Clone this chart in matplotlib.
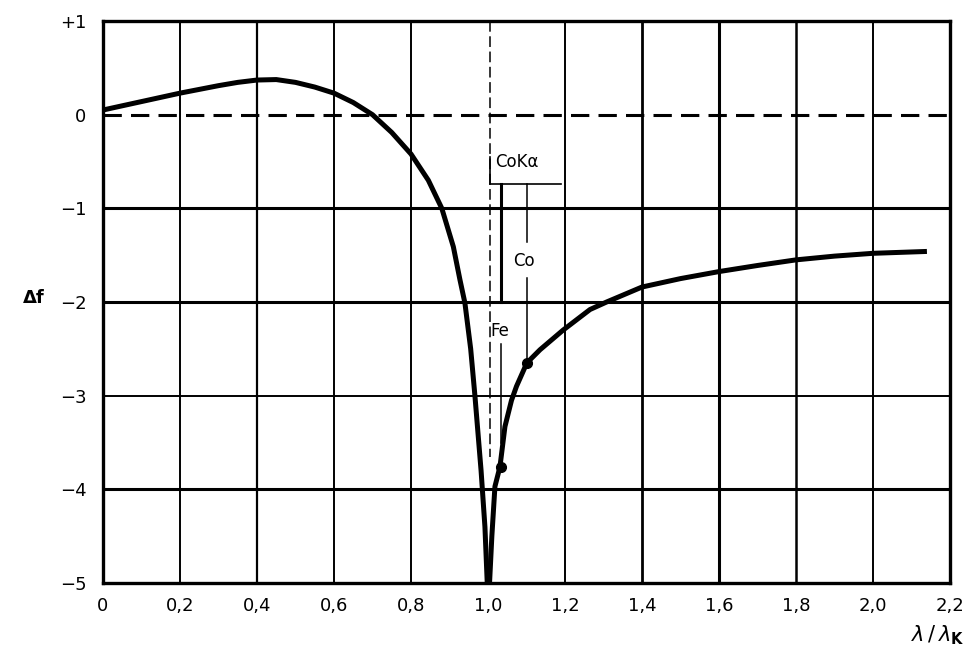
import matplotlib
matplotlib.use("Agg")
import matplotlib.pyplot as plt
import numpy as np

# Anomalous dispersion correction Δf versus λ/λK
x_below = [0.00, 0.10, 0.20, 0.30, 0.35, 0.40, 0.45, 0.50, 0.55, 0.60, 0.65,
           0.70, 0.75, 0.80, 0.845, 0.88, 0.91, 0.927, 0.940, 0.955, 0.966,
           0.982, 0.992, 0.998]
df_below = [0.05, 0.14, 0.23, 0.31, 0.345, 0.37, 0.375, 0.345, 0.295, 0.23,
            0.13, 0.00, -0.19, -0.42, -0.70, -1.00, -1.41, -1.76, -2.01, -2.50,
            -3.00, -3.80, -4.40, -5.00]

x_above = [1.004, 1.010, 1.018, 1.031, 1.044, 1.061, 1.074, 1.101, 1.135, 1.195,
           1.265, 1.308, 1.40, 1.50, 1.60, 1.70, 1.80, 1.90, 2.00, 2.14]
df_above = [-5.00, -4.50, -3.97, -3.76, -3.33, -3.05, -2.90, -2.65, -2.51, -2.30,
            -2.08, -2.00, -1.84, -1.75, -1.675, -1.61, -1.55, -1.51, -1.48, -1.46]

# CoKα positions for the Fe and Co edges
fe_x, fe_df = 1.033, -3.76
co_x, co_df = 1.101, -2.65

x_ticks = [0.0, 0.2, 0.4, 0.6, 0.8, 1.0, 1.2, 1.4, 1.6, 1.8, 2.0, 2.2]
x_ticklabels = ["0", "0,2", "0,4", "0,6", "0,8", "1,0", "1,2", "1,4", "1,6",
                "1,8", "2,0", "2,2"]
y_ticks = [1, 0, -1, -2, -3, -4, -5]
y_ticklabels = ["+1", "0", "\u22121", "\u22122", "\u22123", "\u22124", "\u22125"]

fig = plt.figure(figsize=(9.79, 6.53), dpi=100)
ax = fig.add_axes([0.1052, 0.1072, 0.8652, 0.8606])
ax.set_xlim(0, 2.2)
ax.set_ylim(-5, 1)

# grid
vwidths = {0.2: 1.4, 0.4: 1.6, 0.6: 1.4, 0.8: 1.4, 1.2: 1.4, 1.4: 2.0,
           1.6: 2.2, 1.8: 1.8, 2.0: 1.4}
for xv, lw in vwidths.items():
    ax.axvline(xv, color="black", lw=lw, zorder=1)
hwidths = {-1: 2.2, -2: 2.2, -3: 1.4, -4: 2.2}
for yv, lw in hwidths.items():
    ax.axhline(yv, color="black", lw=lw, zorder=1)
ax.axhline(0, color="black", lw=2.2, dashes=(6, 3), zorder=1)

# edge marker line at λ = λK
ax.plot([1.005, 1.005], [1.0, -3.65], color="black", lw=1.1,
        dashes=(7, 3), zorder=2)

# CoKα bracket and pointers
ax.plot([1.005, 1.005], [-0.45, -0.74], color="black", lw=1.2, zorder=2)
ax.plot([1.005, 1.19], [-0.74, -0.74], color="black", lw=1.2, zorder=2)
ax.plot([fe_x, fe_x], [-0.74, -2.0], color="black", lw=2.2, zorder=2)
ax.plot([fe_x, fe_x], [-2.45, -3.5], color="black", lw=1.1, zorder=2)
ax.plot([co_x, co_x], [-0.74, -1.36], color="black", lw=1.1, zorder=2)
ax.plot([co_x, co_x], [-1.74, co_df], color="black", lw=1.1, zorder=2)
ax.text(1.018, -0.50, "CoK\u03b1", fontsize=12, ha="left", va="center")
ax.text(co_x - 0.007, -1.56, "Co", fontsize=12, ha="center", va="center")
ax.text(1.006, -2.31, "Fe", fontsize=12, ha="left", va="center")

# curve
ax.plot(x_below, df_below, color="black", lw=3.6, solid_capstyle="butt",
        solid_joinstyle="round", zorder=3)
ax.plot(x_above, df_above, color="black", lw=3.6, solid_capstyle="butt",
        solid_joinstyle="round", zorder=3)
ax.plot([fe_x, co_x], [fe_df, co_df], "o", color="black", ms=7, zorder=4)

for s in ax.spines.values():
    s.set_linewidth(2.4)
ax.set_xticks(x_ticks)
ax.set_xticklabels(x_ticklabels)
ax.set_yticks(y_ticks)
ax.set_yticklabels(y_ticklabels)
ax.tick_params(length=0, labelsize=13, pad=10)
ax.tick_params(axis="y", pad=12)

fig.text(0.035, 0.543, "\u0394f", fontsize=13, fontweight="bold",
         ha="center", va="center")
fig.text(0.958, 0.028, r"$\lambda\,/\,\lambda_{\mathbf{K}}$", fontsize=15,
         ha="center", va="center")

fig.savefig("out.png", dpi=100)
